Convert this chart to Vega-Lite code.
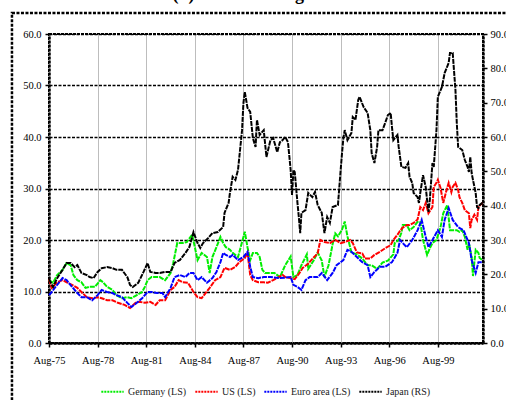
{
"$schema":"https://vega.github.io/schema/vega-lite/v6.json",
"width":434,"height":309,
"autosize":{"type":"none"},
"padding":{"left":49,"top":34,"right":23,"bottom":57},
"background":"white",
"title":{"text":"(b) Price-earnings ratios","font":"Liberation Serif","fontSize":18,"fontWeight":"bold","anchor":"middle","frame":"group","baseline":"alphabetic","offset":0,"dy":6,"color":"black"},
"config":{"font":"Liberation Serif","view":{"stroke":"black","strokeWidth":2,"strokeDash":[3,1]},"legend":{"labelFont":"Liberation Serif"}},
"datasets":{"pe":[
{"date":"1975-08","series":"Germany (LS)","value":12.2},
{"date":"1975-11","series":"Germany (LS)","value":11.7},
{"date":"1976-02","series":"Germany (LS)","value":13.2},
{"date":"1976-06","series":"Germany (LS)","value":14.2},
{"date":"1976-09","series":"Germany (LS)","value":15.5},
{"date":"1976-12","series":"Germany (LS)","value":15.1},
{"date":"1977-02","series":"Germany (LS)","value":13.2},
{"date":"1977-05","series":"Germany (LS)","value":12.2},
{"date":"1977-08","series":"Germany (LS)","value":11.8},
{"date":"1977-11","series":"Germany (LS)","value":10.7},
{"date":"1978-02","series":"Germany (LS)","value":10.9},
{"date":"1978-06","series":"Germany (LS)","value":10.9},
{"date":"1978-10","series":"Germany (LS)","value":12.2},
{"date":"1978-12","series":"Germany (LS)","value":11.8},
{"date":"1979-03","series":"Germany (LS)","value":10.9},
{"date":"1979-07","series":"Germany (LS)","value":10.3},
{"date":"1979-10","series":"Germany (LS)","value":9.3},
{"date":"1980-02","series":"Germany (LS)","value":8.7},
{"date":"1980-06","series":"Germany (LS)","value":8.9},
{"date":"1980-09","series":"Germany (LS)","value":8.7},
{"date":"1981-01","series":"Germany (LS)","value":9.3},
{"date":"1981-05","series":"Germany (LS)","value":9.9},
{"date":"1981-07","series":"Germany (LS)","value":10.9},
{"date":"1981-09","series":"Germany (LS)","value":12.2},
{"date":"1981-12","series":"Germany (LS)","value":12.8},
{"date":"1982-04","series":"Germany (LS)","value":12.8},
{"date":"1982-06","series":"Germany (LS)","value":12.8},
{"date":"1982-10","series":"Germany (LS)","value":12.2},
{"date":"1983-02","series":"Germany (LS)","value":13.6},
{"date":"1983-04","series":"Germany (LS)","value":15.5},
{"date":"1983-07","series":"Germany (LS)","value":19.4},
{"date":"1983-11","series":"Germany (LS)","value":19.4},
{"date":"1984-02","series":"Germany (LS)","value":19.6},
{"date":"1984-06","series":"Germany (LS)","value":21.0},
{"date":"1984-08","series":"Germany (LS)","value":18.6},
{"date":"1984-10","series":"Germany (LS)","value":16.1},
{"date":"1985-01","series":"Germany (LS)","value":17.5},
{"date":"1985-05","series":"Germany (LS)","value":16.7},
{"date":"1985-07","series":"Germany (LS)","value":13.6},
{"date":"1985-09","series":"Germany (LS)","value":16.7},
{"date":"1985-12","series":"Germany (LS)","value":18.6},
{"date":"1986-03","series":"Germany (LS)","value":20.6},
{"date":"1986-05","series":"Germany (LS)","value":19.4},
{"date":"1986-07","series":"Germany (LS)","value":18.6},
{"date":"1986-10","series":"Germany (LS)","value":18.1},
{"date":"1986-12","series":"Germany (LS)","value":17.5},
{"date":"1987-04","series":"Germany (LS)","value":16.7},
{"date":"1987-08","series":"Germany (LS)","value":20.6},
{"date":"1987-09","series":"Germany (LS)","value":21.6},
{"date":"1987-11","series":"Germany (LS)","value":18.6},
{"date":"1988-01","series":"Germany (LS)","value":16.1},
{"date":"1988-03","series":"Germany (LS)","value":17.5},
{"date":"1988-06","series":"Germany (LS)","value":17.5},
{"date":"1988-08","series":"Germany (LS)","value":16.7},
{"date":"1988-10","series":"Germany (LS)","value":14.2},
{"date":"1988-12","series":"Germany (LS)","value":13.6},
{"date":"1989-04","series":"Germany (LS)","value":13.6},
{"date":"1989-07","series":"Germany (LS)","value":13.6},
{"date":"1989-11","series":"Germany (LS)","value":12.8},
{"date":"1990-03","series":"Germany (LS)","value":15.1},
{"date":"1990-07","series":"Germany (LS)","value":16.8},
{"date":"1990-09","series":"Germany (LS)","value":12.8},
{"date":"1990-12","series":"Germany (LS)","value":13.2},
{"date":"1991-03","series":"Germany (LS)","value":15.1},
{"date":"1991-07","series":"Germany (LS)","value":17.2},
{"date":"1991-08","series":"Germany (LS)","value":14.4},
{"date":"1991-12","series":"Germany (LS)","value":16.0},
{"date":"1992-03","series":"Germany (LS)","value":17.6},
{"date":"1992-06","series":"Germany (LS)","value":16.0},
{"date":"1992-08","series":"Germany (LS)","value":12.8},
{"date":"1992-11","series":"Germany (LS)","value":15.1},
{"date":"1993-02","series":"Germany (LS)","value":19.2},
{"date":"1993-04","series":"Germany (LS)","value":21.3},
{"date":"1993-06","series":"Germany (LS)","value":20.7},
{"date":"1993-09","series":"Germany (LS)","value":22.0},
{"date":"1993-11","series":"Germany (LS)","value":23.6},
{"date":"1994-01","series":"Germany (LS)","value":20.7},
{"date":"1994-04","series":"Germany (LS)","value":17.6},
{"date":"1994-08","series":"Germany (LS)","value":17.2},
{"date":"1994-12","series":"Germany (LS)","value":16.4},
{"date":"1995-04","series":"Germany (LS)","value":15.1},
{"date":"1995-07","series":"Germany (LS)","value":15.1},
{"date":"1995-11","series":"Germany (LS)","value":14.4},
{"date":"1996-03","series":"Germany (LS)","value":15.6},
{"date":"1996-07","series":"Germany (LS)","value":16.0},
{"date":"1996-11","series":"Germany (LS)","value":17.2},
{"date":"1996-12","series":"Germany (LS)","value":19.4},
{"date":"1997-03","series":"Germany (LS)","value":20.0},
{"date":"1997-05","series":"Germany (LS)","value":21.4},
{"date":"1997-06","series":"Germany (LS)","value":22.9},
{"date":"1997-09","series":"Germany (LS)","value":22.9},
{"date":"1997-11","series":"Germany (LS)","value":21.9},
{"date":"1998-02","series":"Germany (LS)","value":22.5},
{"date":"1998-05","series":"Germany (LS)","value":23.5},
{"date":"1998-07","series":"Germany (LS)","value":23.5},
{"date":"1998-09","series":"Germany (LS)","value":20.0},
{"date":"1998-12","series":"Germany (LS)","value":17.1},
{"date":"1999-02","series":"Germany (LS)","value":18.4},
{"date":"1999-04","series":"Germany (LS)","value":19.4},
{"date":"1999-07","series":"Germany (LS)","value":20.0},
{"date":"1999-10","series":"Germany (LS)","value":22.5},
{"date":"1999-12","series":"Germany (LS)","value":25.2},
{"date":"2000-03","series":"Germany (LS)","value":26.8},
{"date":"2000-05","series":"Germany (LS)","value":21.9},
{"date":"2000-07","series":"Germany (LS)","value":21.9},
{"date":"2000-10","series":"Germany (LS)","value":21.9},
{"date":"2000-12","series":"Germany (LS)","value":21.6},
{"date":"2001-02","series":"Germany (LS)","value":21.9},
{"date":"2001-04","series":"Germany (LS)","value":20.6},
{"date":"2001-06","series":"Germany (LS)","value":18.1},
{"date":"2001-07","series":"Germany (LS)","value":19.4},
{"date":"2001-09","series":"Germany (LS)","value":16.7},
{"date":"2001-10","series":"Germany (LS)","value":13.0},
{"date":"2001-12","series":"Germany (LS)","value":18.1},
{"date":"2002-02","series":"Germany (LS)","value":17.5},
{"date":"2002-03","series":"Germany (LS)","value":16.5},
{"date":"2002-05","series":"Germany (LS)","value":16.1},
{"date":"1975-08","series":"US (LS)","value":12.4},
{"date":"1975-10","series":"US (LS)","value":10.7},
{"date":"1976-02","series":"US (LS)","value":11.8},
{"date":"1976-06","series":"US (LS)","value":12.2},
{"date":"1976-09","series":"US (LS)","value":11.8},
{"date":"1977-01","series":"US (LS)","value":11.3},
{"date":"1977-05","series":"US (LS)","value":10.7},
{"date":"1977-08","series":"US (LS)","value":9.9},
{"date":"1977-12","series":"US (LS)","value":8.9},
{"date":"1978-04","series":"US (LS)","value":8.7},
{"date":"1978-08","series":"US (LS)","value":8.9},
{"date":"1978-11","series":"US (LS)","value":8.7},
{"date":"1979-03","series":"US (LS)","value":8.3},
{"date":"1979-07","series":"US (LS)","value":8.3},
{"date":"1979-11","series":"US (LS)","value":7.8},
{"date":"1980-04","series":"US (LS)","value":7.4},
{"date":"1980-08","series":"US (LS)","value":6.8},
{"date":"1980-12","series":"US (LS)","value":7.8},
{"date":"1981-03","series":"US (LS)","value":8.0},
{"date":"1981-07","series":"US (LS)","value":7.8},
{"date":"1981-11","series":"US (LS)","value":8.0},
{"date":"1982-03","series":"US (LS)","value":7.4},
{"date":"1982-06","series":"US (LS)","value":8.3},
{"date":"1982-10","series":"US (LS)","value":8.3},
{"date":"1983-02","series":"US (LS)","value":10.3},
{"date":"1983-05","series":"US (LS)","value":10.9},
{"date":"1983-08","series":"US (LS)","value":12.2},
{"date":"1983-11","series":"US (LS)","value":11.8},
{"date":"1984-03","series":"US (LS)","value":11.7},
{"date":"1984-07","series":"US (LS)","value":9.9},
{"date":"1984-10","series":"US (LS)","value":8.9},
{"date":"1985-01","series":"US (LS)","value":8.7},
{"date":"1985-04","series":"US (LS)","value":9.7},
{"date":"1985-07","series":"US (LS)","value":10.7},
{"date":"1985-11","series":"US (LS)","value":12.2},
{"date":"1986-03","series":"US (LS)","value":12.8},
{"date":"1986-06","series":"US (LS)","value":14.6},
{"date":"1986-10","series":"US (LS)","value":14.2},
{"date":"1987-02","series":"US (LS)","value":14.8},
{"date":"1987-05","series":"US (LS)","value":15.7},
{"date":"1987-09","series":"US (LS)","value":16.5},
{"date":"1987-11","series":"US (LS)","value":17.5},
{"date":"1988-01","series":"US (LS)","value":13.2},
{"date":"1988-03","series":"US (LS)","value":12.2},
{"date":"1988-07","series":"US (LS)","value":11.8},
{"date":"1988-11","series":"US (LS)","value":11.8},
{"date":"1989-02","series":"US (LS)","value":11.7},
{"date":"1989-06","series":"US (LS)","value":12.2},
{"date":"1989-10","series":"US (LS)","value":12.8},
{"date":"1990-01","series":"US (LS)","value":13.2},
{"date":"1990-03","series":"US (LS)","value":12.8},
{"date":"1990-07","series":"US (LS)","value":12.6},
{"date":"1990-10","series":"US (LS)","value":12.4},
{"date":"1991-01","series":"US (LS)","value":13.4},
{"date":"1991-04","series":"US (LS)","value":14.6},
{"date":"1991-08","series":"US (LS)","value":15.4},
{"date":"1991-12","series":"US (LS)","value":16.6},
{"date":"1992-03","series":"US (LS)","value":17.4},
{"date":"1992-05","series":"US (LS)","value":20.0},
{"date":"1992-08","series":"US (LS)","value":19.6},
{"date":"1992-12","series":"US (LS)","value":19.4},
{"date":"1993-04","series":"US (LS)","value":20.0},
{"date":"1993-08","series":"US (LS)","value":19.4},
{"date":"1993-11","series":"US (LS)","value":19.6},
{"date":"1994-03","series":"US (LS)","value":20.0},
{"date":"1994-05","series":"US (LS)","value":19.4},
{"date":"1994-08","series":"US (LS)","value":17.6},
{"date":"1994-12","series":"US (LS)","value":17.4},
{"date":"1995-02","series":"US (LS)","value":16.4},
{"date":"1995-06","series":"US (LS)","value":16.4},
{"date":"1995-09","series":"US (LS)","value":17.1},
{"date":"1996-01","series":"US (LS)","value":17.7},
{"date":"1996-05","series":"US (LS)","value":18.4},
{"date":"1996-09","series":"US (LS)","value":19.0},
{"date":"1996-11","series":"US (LS)","value":20.0},
{"date":"1997-02","series":"US (LS)","value":21.0},
{"date":"1997-04","series":"US (LS)","value":21.8},
{"date":"1997-06","series":"US (LS)","value":22.4},
{"date":"1997-09","series":"US (LS)","value":22.9},
{"date":"1997-11","series":"US (LS)","value":22.9},
{"date":"1998-02","series":"US (LS)","value":23.3},
{"date":"1998-05","series":"US (LS)","value":24.0},
{"date":"1998-06","series":"US (LS)","value":25.2},
{"date":"1998-07","series":"US (LS)","value":26.4},
{"date":"1998-09","series":"US (LS)","value":25.8},
{"date":"1998-11","series":"US (LS)","value":27.2},
{"date":"1999-01","series":"US (LS)","value":25.2},
{"date":"1999-04","series":"US (LS)","value":26.4},
{"date":"1999-05","series":"US (LS)","value":30.3},
{"date":"1999-07","series":"US (LS)","value":31.1},
{"date":"1999-08","series":"US (LS)","value":31.7},
{"date":"1999-10","series":"US (LS)","value":30.1},
{"date":"1999-12","series":"US (LS)","value":27.2},
{"date":"2000-02","series":"US (LS)","value":29.3},
{"date":"2000-04","series":"US (LS)","value":31.1},
{"date":"2000-06","series":"US (LS)","value":29.3},
{"date":"2000-07","series":"US (LS)","value":30.3},
{"date":"2000-09","series":"US (LS)","value":31.1},
{"date":"2000-11","series":"US (LS)","value":29.7},
{"date":"2000-12","series":"US (LS)","value":28.3},
{"date":"2001-02","series":"US (LS)","value":27.2},
{"date":"2001-04","series":"US (LS)","value":25.8},
{"date":"2001-07","series":"US (LS)","value":25.2},
{"date":"2001-08","series":"US (LS)","value":22.3},
{"date":"2001-09","series":"US (LS)","value":23.9},
{"date":"2001-11","series":"US (LS)","value":24.9},
{"date":"2002-01","series":"US (LS)","value":23.9},
{"date":"2002-02","series":"US (LS)","value":26.4},
{"date":"2002-05","series":"US (LS)","value":27.2},
{"date":"1975-08","series":"Euro area (LS)","value":9.3},
{"date":"1975-10","series":"Euro area (LS)","value":9.9},
{"date":"1976-02","series":"Euro area (LS)","value":11.3},
{"date":"1976-06","series":"Euro area (LS)","value":12.6},
{"date":"1976-09","series":"Euro area (LS)","value":12.2},
{"date":"1977-01","series":"Euro area (LS)","value":10.9},
{"date":"1977-05","series":"Euro area (LS)","value":9.7},
{"date":"1977-08","series":"Euro area (LS)","value":8.9},
{"date":"1977-12","series":"Euro area (LS)","value":8.9},
{"date":"1978-04","series":"Euro area (LS)","value":8.3},
{"date":"1978-08","series":"Euro area (LS)","value":9.3},
{"date":"1978-11","series":"Euro area (LS)","value":10.3},
{"date":"1979-03","series":"Euro area (LS)","value":9.9},
{"date":"1979-07","series":"Euro area (LS)","value":9.7},
{"date":"1979-10","series":"Euro area (LS)","value":9.3},
{"date":"1980-02","series":"Euro area (LS)","value":8.9},
{"date":"1980-06","series":"Euro area (LS)","value":7.8},
{"date":"1980-09","series":"Euro area (LS)","value":7.0},
{"date":"1981-01","series":"Euro area (LS)","value":7.8},
{"date":"1981-05","series":"Euro area (LS)","value":8.7},
{"date":"1981-09","series":"Euro area (LS)","value":9.9},
{"date":"1981-12","series":"Euro area (LS)","value":9.9},
{"date":"1982-04","series":"Euro area (LS)","value":9.7},
{"date":"1982-08","series":"Euro area (LS)","value":9.7},
{"date":"1982-10","series":"Euro area (LS)","value":8.9},
{"date":"1983-02","series":"Euro area (LS)","value":10.7},
{"date":"1983-05","series":"Euro area (LS)","value":12.8},
{"date":"1983-09","series":"Euro area (LS)","value":13.2},
{"date":"1984-01","series":"Euro area (LS)","value":12.8},
{"date":"1984-04","series":"Euro area (LS)","value":13.6},
{"date":"1984-07","series":"Euro area (LS)","value":13.6},
{"date":"1984-10","series":"Euro area (LS)","value":12.2},
{"date":"1985-01","series":"Euro area (LS)","value":12.8},
{"date":"1985-05","series":"Euro area (LS)","value":11.7},
{"date":"1985-09","series":"Euro area (LS)","value":12.6},
{"date":"1985-12","series":"Euro area (LS)","value":13.8},
{"date":"1986-03","series":"Euro area (LS)","value":15.7},
{"date":"1986-05","series":"Euro area (LS)","value":17.5},
{"date":"1986-07","series":"Euro area (LS)","value":17.1},
{"date":"1986-10","series":"Euro area (LS)","value":16.7},
{"date":"1986-12","series":"Euro area (LS)","value":17.1},
{"date":"1987-04","series":"Euro area (LS)","value":16.1},
{"date":"1987-08","series":"Euro area (LS)","value":16.7},
{"date":"1987-11","series":"Euro area (LS)","value":17.7},
{"date":"1988-01","series":"Euro area (LS)","value":14.8},
{"date":"1988-03","series":"Euro area (LS)","value":12.8},
{"date":"1988-07","series":"Euro area (LS)","value":12.6},
{"date":"1988-11","series":"Euro area (LS)","value":12.8},
{"date":"1989-04","series":"Euro area (LS)","value":12.8},
{"date":"1989-11","series":"Euro area (LS)","value":12.6},
{"date":"1990-07","series":"Euro area (LS)","value":12.8},
{"date":"1990-09","series":"Euro area (LS)","value":11.3},
{"date":"1990-12","series":"Euro area (LS)","value":10.9},
{"date":"1991-03","series":"Euro area (LS)","value":10.3},
{"date":"1991-06","series":"Euro area (LS)","value":12.2},
{"date":"1991-09","series":"Euro area (LS)","value":12.8},
{"date":"1992-03","series":"Euro area (LS)","value":12.8},
{"date":"1992-06","series":"Euro area (LS)","value":13.6},
{"date":"1992-10","series":"Euro area (LS)","value":12.2},
{"date":"1993-02","series":"Euro area (LS)","value":13.6},
{"date":"1993-05","series":"Euro area (LS)","value":15.1},
{"date":"1993-10","series":"Euro area (LS)","value":16.1},
{"date":"1994-01","series":"Euro area (LS)","value":18.1},
{"date":"1994-04","series":"Euro area (LS)","value":17.7},
{"date":"1994-08","series":"Euro area (LS)","value":16.7},
{"date":"1994-12","series":"Euro area (LS)","value":15.7},
{"date":"1995-04","series":"Euro area (LS)","value":15.1},
{"date":"1995-06","series":"Euro area (LS)","value":12.8},
{"date":"1995-09","series":"Euro area (LS)","value":13.8},
{"date":"1996-01","series":"Euro area (LS)","value":14.8},
{"date":"1996-05","series":"Euro area (LS)","value":14.8},
{"date":"1996-10","series":"Euro area (LS)","value":15.7},
{"date":"1997-02","series":"Euro area (LS)","value":17.5},
{"date":"1997-04","series":"Euro area (LS)","value":20.0},
{"date":"1997-06","series":"Euro area (LS)","value":19.4},
{"date":"1997-09","series":"Euro area (LS)","value":18.6},
{"date":"1998-01","series":"Euro area (LS)","value":20.0},
{"date":"1998-05","series":"Euro area (LS)","value":21.9},
{"date":"1998-08","series":"Euro area (LS)","value":23.9},
{"date":"1998-11","series":"Euro area (LS)","value":20.6},
{"date":"1999-01","series":"Euro area (LS)","value":18.6},
{"date":"1999-04","series":"Euro area (LS)","value":20.0},
{"date":"1999-08","series":"Euro area (LS)","value":21.9},
{"date":"1999-11","series":"Euro area (LS)","value":20.6},
{"date":"2000-01","series":"Euro area (LS)","value":23.9},
{"date":"2000-04","series":"Euro area (LS)","value":26.2},
{"date":"2000-07","series":"Euro area (LS)","value":23.9},
{"date":"2000-11","series":"Euro area (LS)","value":22.5},
{"date":"2001-03","series":"Euro area (LS)","value":21.9},
{"date":"2001-07","series":"Euro area (LS)","value":19.4},
{"date":"2001-09","series":"Euro area (LS)","value":16.1},
{"date":"2001-12","series":"Euro area (LS)","value":13.6},
{"date":"2002-02","series":"Euro area (LS)","value":15.7},
{"date":"2002-05","series":"Euro area (LS)","value":15.7},
{"date":"1975-08","series":"Japan (RS)","value":18.6},
{"date":"1975-11","series":"Japan (RS)","value":16.3},
{"date":"1976-02","series":"Japan (RS)","value":18.9},
{"date":"1976-06","series":"Japan (RS)","value":21.3},
{"date":"1976-09","series":"Japan (RS)","value":23.3},
{"date":"1976-12","series":"Japan (RS)","value":23.3},
{"date":"1977-03","series":"Japan (RS)","value":22.1},
{"date":"1977-05","series":"Japan (RS)","value":22.7},
{"date":"1977-08","series":"Japan (RS)","value":20.4},
{"date":"1977-12","series":"Japan (RS)","value":19.8},
{"date":"1978-02","series":"Japan (RS)","value":19.2},
{"date":"1978-05","series":"Japan (RS)","value":18.9},
{"date":"1978-08","series":"Japan (RS)","value":20.7},
{"date":"1978-11","series":"Japan (RS)","value":21.8},
{"date":"1979-03","series":"Japan (RS)","value":22.1},
{"date":"1979-07","series":"Japan (RS)","value":21.8},
{"date":"1979-10","series":"Japan (RS)","value":21.3},
{"date":"1980-02","series":"Japan (RS)","value":21.3},
{"date":"1980-06","series":"Japan (RS)","value":19.2},
{"date":"1980-08","series":"Japan (RS)","value":16.9},
{"date":"1980-10","series":"Japan (RS)","value":16.3},
{"date":"1981-02","series":"Japan (RS)","value":17.5},
{"date":"1981-06","series":"Japan (RS)","value":20.7},
{"date":"1981-09","series":"Japan (RS)","value":23.3},
{"date":"1981-11","series":"Japan (RS)","value":20.7},
{"date":"1982-03","series":"Japan (RS)","value":20.4},
{"date":"1982-06","series":"Japan (RS)","value":20.4},
{"date":"1982-10","series":"Japan (RS)","value":20.7},
{"date":"1983-02","series":"Japan (RS)","value":20.7},
{"date":"1983-05","series":"Japan (RS)","value":23.3},
{"date":"1983-09","series":"Japan (RS)","value":24.2},
{"date":"1984-01","series":"Japan (RS)","value":26.2},
{"date":"1984-04","series":"Japan (RS)","value":28.0},
{"date":"1984-07","series":"Japan (RS)","value":32.3},
{"date":"1984-10","series":"Japan (RS)","value":29.1},
{"date":"1984-12","series":"Japan (RS)","value":27.7},
{"date":"1985-02","series":"Japan (RS)","value":29.1},
{"date":"1985-06","series":"Japan (RS)","value":30.6},
{"date":"1985-09","series":"Japan (RS)","value":32.0},
{"date":"1986-01","series":"Japan (RS)","value":32.3},
{"date":"1986-05","series":"Japan (RS)","value":33.8},
{"date":"1986-06","series":"Japan (RS)","value":37.9},
{"date":"1986-09","series":"Japan (RS)","value":40.8},
{"date":"1986-10","series":"Japan (RS)","value":43.7},
{"date":"1986-12","series":"Japan (RS)","value":48.4},
{"date":"1987-02","series":"Japan (RS)","value":47.5},
{"date":"1987-04","series":"Japan (RS)","value":50.4},
{"date":"1987-05","series":"Japan (RS)","value":54.2},
{"date":"1987-07","series":"Japan (RS)","value":62.0},
{"date":"1987-08","series":"Japan (RS)","value":69.9},
{"date":"1987-09","series":"Japan (RS)","value":73.1},
{"date":"1987-11","series":"Japan (RS)","value":68.5},
{"date":"1988-01","series":"Japan (RS)","value":67.3},
{"date":"1988-03","series":"Japan (RS)","value":59.7},
{"date":"1988-05","series":"Japan (RS)","value":57.1},
{"date":"1988-06","series":"Japan (RS)","value":65.0},
{"date":"1988-08","series":"Japan (RS)","value":60.6},
{"date":"1988-11","series":"Japan (RS)","value":62.0},
{"date":"1989-01","series":"Japan (RS)","value":54.2},
{"date":"1989-04","series":"Japan (RS)","value":59.1},
{"date":"1989-06","series":"Japan (RS)","value":59.7},
{"date":"1989-09","series":"Japan (RS)","value":55.6},
{"date":"1989-11","series":"Japan (RS)","value":58.5},
{"date":"1990-01","series":"Japan (RS)","value":59.1},
{"date":"1990-03","series":"Japan (RS)","value":60.0},
{"date":"1990-05","series":"Japan (RS)","value":58.5},
{"date":"1990-07","series":"Japan (RS)","value":50.4},
{"date":"1990-08","series":"Japan (RS)","value":43.1},
{"date":"1990-09","series":"Japan (RS)","value":50.4},
{"date":"1990-10","series":"Japan (RS)","value":49.8},
{"date":"1990-12","series":"Japan (RS)","value":40.8},
{"date":"1991-01","series":"Japan (RS)","value":36.7},
{"date":"1991-02","series":"Japan (RS)","value":32.0},
{"date":"1991-03","series":"Japan (RS)","value":37.9},
{"date":"1991-06","series":"Japan (RS)","value":38.7},
{"date":"1991-08","series":"Japan (RS)","value":43.7},
{"date":"1991-11","series":"Japan (RS)","value":42.5},
{"date":"1992-01","series":"Japan (RS)","value":44.0},
{"date":"1992-03","series":"Japan (RS)","value":40.2},
{"date":"1992-06","series":"Japan (RS)","value":37.9},
{"date":"1992-08","series":"Japan (RS)","value":32.0},
{"date":"1992-10","series":"Japan (RS)","value":36.7},
{"date":"1992-12","series":"Japan (RS)","value":35.0},
{"date":"1993-02","series":"Japan (RS)","value":39.6},
{"date":"1993-06","series":"Japan (RS)","value":40.2},
{"date":"1993-08","series":"Japan (RS)","value":50.4},
{"date":"1993-09","series":"Japan (RS)","value":55.3},
{"date":"1993-10","series":"Japan (RS)","value":59.7},
{"date":"1993-11","series":"Japan (RS)","value":62.0},
{"date":"1994-01","series":"Japan (RS)","value":59.1},
{"date":"1994-04","series":"Japan (RS)","value":61.2},
{"date":"1994-05","series":"Japan (RS)","value":65.8},
{"date":"1994-07","series":"Japan (RS)","value":65.0},
{"date":"1994-08","series":"Japan (RS)","value":67.9},
{"date":"1994-09","series":"Japan (RS)","value":70.8},
{"date":"1994-10","series":"Japan (RS)","value":71.7},
{"date":"1995-01","series":"Japan (RS)","value":68.7},
{"date":"1995-04","series":"Japan (RS)","value":67.0},
{"date":"1995-06","series":"Japan (RS)","value":62.0},
{"date":"1995-07","series":"Japan (RS)","value":55.3},
{"date":"1995-09","series":"Japan (RS)","value":52.4},
{"date":"1995-11","series":"Japan (RS)","value":57.1},
{"date":"1995-12","series":"Japan (RS)","value":62.0},
{"date":"1996-03","series":"Japan (RS)","value":62.0},
{"date":"1996-05","series":"Japan (RS)","value":64.1},
{"date":"1996-07","series":"Japan (RS)","value":66.4},
{"date":"1996-09","series":"Japan (RS)","value":67.0},
{"date":"1996-10","series":"Japan (RS)","value":62.9},
{"date":"1996-11","series":"Japan (RS)","value":59.1},
{"date":"1997-02","series":"Japan (RS)","value":60.6},
{"date":"1997-03","series":"Japan (RS)","value":57.1},
{"date":"1997-05","series":"Japan (RS)","value":51.3},
{"date":"1997-08","series":"Japan (RS)","value":51.0},
{"date":"1997-10","series":"Japan (RS)","value":52.4},
{"date":"1997-11","series":"Japan (RS)","value":48.4},
{"date":"1998-01","series":"Japan (RS)","value":46.6},
{"date":"1998-02","series":"Japan (RS)","value":43.7},
{"date":"1998-05","series":"Japan (RS)","value":42.5},
{"date":"1998-06","series":"Japan (RS)","value":40.8},
{"date":"1998-07","series":"Japan (RS)","value":43.7},
{"date":"1998-09","series":"Japan (RS)","value":48.9},
{"date":"1998-11","series":"Japan (RS)","value":45.4},
{"date":"1998-12","series":"Japan (RS)","value":41.7},
{"date":"1999-01","series":"Japan (RS)","value":38.2},
{"date":"1999-02","series":"Japan (RS)","value":41.7},
{"date":"1999-04","series":"Japan (RS)","value":52.4},
{"date":"1999-05","series":"Japan (RS)","value":51.3},
{"date":"1999-07","series":"Japan (RS)","value":62.0},
{"date":"1999-08","series":"Japan (RS)","value":71.7},
{"date":"1999-11","series":"Japan (RS)","value":74.6},
{"date":"2000-01","series":"Japan (RS)","value":78.6},
{"date":"2000-04","series":"Japan (RS)","value":81.6},
{"date":"2000-05","series":"Japan (RS)","value":84.5},
{"date":"2000-07","series":"Japan (RS)","value":84.5},
{"date":"2000-09","series":"Japan (RS)","value":73.7},
{"date":"2000-10","series":"Japan (RS)","value":64.1},
{"date":"2000-11","series":"Japan (RS)","value":57.1},
{"date":"2001-02","series":"Japan (RS)","value":56.2},
{"date":"2001-04","series":"Japan (RS)","value":53.3},
{"date":"2001-06","series":"Japan (RS)","value":51.3},
{"date":"2001-07","series":"Japan (RS)","value":49.8},
{"date":"2001-08","series":"Japan (RS)","value":54.2},
{"date":"2001-09","series":"Japan (RS)","value":49.5},
{"date":"2001-10","series":"Japan (RS)","value":47.5},
{"date":"2001-12","series":"Japan (RS)","value":43.7},
{"date":"2002-01","series":"Japan (RS)","value":39.6},
{"date":"2002-02","series":"Japan (RS)","value":39.3},
{"date":"2002-03","series":"Japan (RS)","value":40.2},
{"date":"2002-05","series":"Japan (RS)","value":40.8}
]},
"layer":[
{"layer":[
 {"data":{"values":[{}]},
  "mark":{"type":"rect","fill":"transparent","stroke":"black","strokeWidth":2.5,"strokeDash":[3,1.5],"clip":false},
  "encoding":{
   "x":{"datum":{"year":1973,"month":4,"date":18},"type":"temporal"},
   "x2":{"datum":{"year":2005,"month":1,"date":1}},
   "y":{"datum":64.1,"type":"quantitative"},
   "y2":{"datum":-14}
  }},
 {"data":{"name":"pe"},
  "transform":[{"filter":"datum.series !== 'Japan (RS)'"}],
  "mark":{"type":"line","strokeWidth":2,"strokeDash":[5,1]},
  "encoding":{
   "x":{"field":"date","type":"temporal",
     "scale":{"domain":[{"year":1975,"month":8,"date":1},{"year":2002,"month":5,"date":15}]},
     "axis":{"values":[{"year":1975,"month":8,"date":1},{"year":1978,"month":8,"date":1},{"year":1981,"month":8,"date":1},{"year":1984,"month":8,"date":1},{"year":1987,"month":8,"date":1},{"year":1990,"month":8,"date":1},{"year":1993,"month":8,"date":1},{"year":1996,"month":8,"date":1},{"year":1999,"month":8,"date":1}],
       "format":"%b-%y","title":null,"labelFlush":false,"labelFont":"Liberation Serif","labelFontSize":10.5,"labelColor":"black","labelPadding":8,
       "grid":true,"gridColor":"#bdbdbd","gridWidth":1,
       "domainColor":"black","domainWidth":2.5,"domainDash":[3,1],
       "tickColor":"black","tickSize":4,"tickWidth":1.5}},
   "y":{"field":"value","type":"quantitative",
     "scale":{"domain":[0,60],"nice":false},
     "axis":{"values":[0,10,20,30,40,50,60],"format":".1f","title":null,"labelFont":"Liberation Serif","labelFontSize":10.5,"labelColor":"black","labelPadding":4,
       "grid":true,"gridColor":"black","gridDash":[3,1.5],"gridWidth":1.5,
       "domainColor":"black","domainWidth":2.5,"domainDash":[3,1],
       "tickColor":"black","tickSize":4,"tickWidth":1.5}},
   "color":{"field":"series","type":"nominal",
     "scale":{"domain":["Germany (LS)","US (LS)","Euro area (LS)","Japan (RS)"],"range":["#00ee00","#ff0000","#0000ff","#000000"]},
     "legend":{"orient":"none","legendX":51,"legendY":345,"direction":"horizontal","title":null,"symbolType":"stroke","symbolStrokeWidth":2,"symbolDash":[2,1],"symbolSize":500,"labelFont":"Liberation Serif","labelFontSize":10,"labelColor":"#222222","columnPadding":4,"labelOffset":3}}
  }}
]},
{"data":{"name":"pe"},
 "transform":[{"filter":"datum.series === 'Japan (RS)'"}],
 "mark":{"type":"line","strokeWidth":2,"strokeDash":[5,1]},
 "encoding":{
   "x":{"field":"date","type":"temporal"},
   "y":{"field":"value","type":"quantitative",
     "scale":{"domain":[0,90],"nice":false},
     "axis":{"orient":"right","values":[0,10,20,30,40,50,60,70,80,90],"format":".1f","title":null,"labelFont":"Liberation Serif","labelFontSize":10.5,"labelColor":"black","labelPadding":3,
       "grid":false,"domainColor":"black","domainWidth":2.5,"domainDash":[3,1],
       "tickColor":"black","tickSize":4,"tickWidth":1.5}},
   "color":{"field":"series","type":"nominal"}
 }}
],
"resolve":{"scale":{"y":"independent"},"axis":{"y":"independent"}}
}
